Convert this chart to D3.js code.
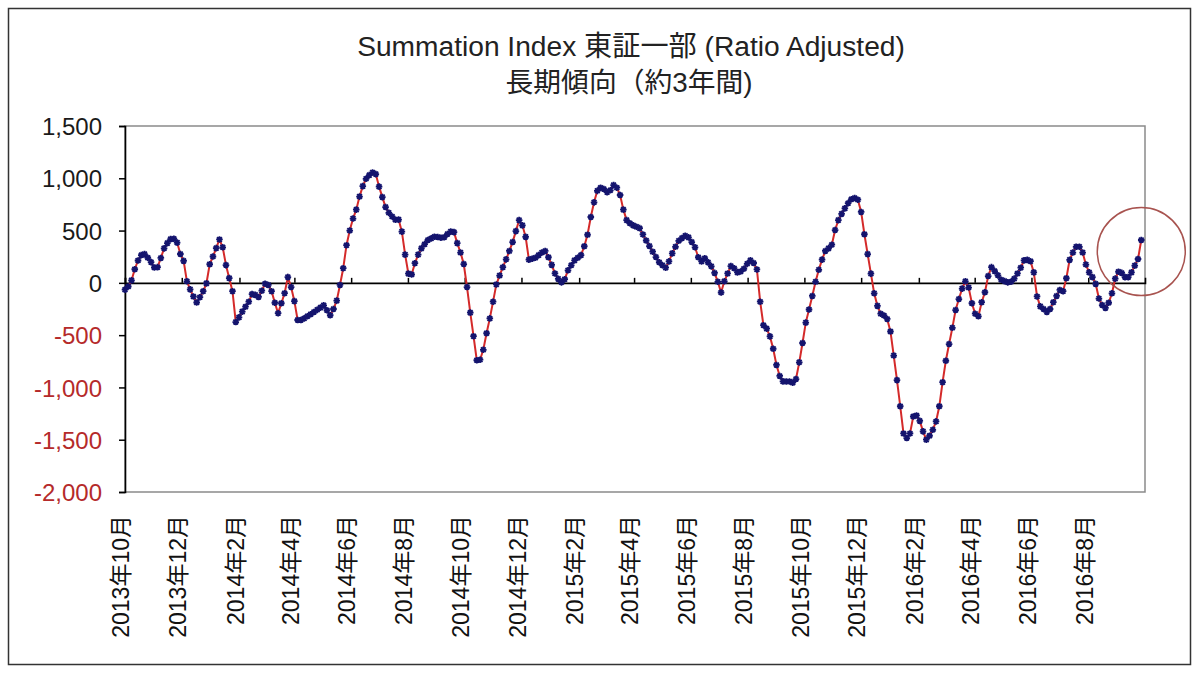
<!DOCTYPE html>
<html><head><meta charset="utf-8">
<script src="https://cdn.jsdelivr.net/npm/d3@7"></script>
<style>
body{margin:0;background:#fff;}
text{font-family:"Liberation Sans","Noto Sans CJK JP",Arial,sans-serif;}
</style>
</head><body>
<svg id="chart" width="1200" height="677"></svg>
<script>
// ---- data ----
const titleLine1 = "Summation Index 東証一部 (Ratio Adjusted)";
const titleLine2 = "長期傾向（約3年間)";
const seriesStart = "2013-10-01";   // first observation
const seriesStepHours = 84;         // two readings per week (every 3.5 days)
const values = [
  -65, -35, 24, 130, 214, 265, 275, 240, 198, 147,
  150, 238, 330, 380, 418, 422, 385, 276, 210, 15,
  -62, -130, -188, -137, -80, -5, 178, 252, 332, 415,
  340, 170, 45, -80, -375, -330, -275, -228, -180, -108,
  -115, -135, -75, -8, -20, -80, -190, -290, -195, -99,
  55, -40, -175, -355, -355, -340, -320, -300, -278, -258,
  -237, -215, -262, -310, -250, -170, -20, 140, 360, 500,
  615, 700, 825, 925, 995, 1030, 1055, 1040, 920, 820,
  725, 670, 635, 604, 605, 490, 270, 88, 80, 188,
  270, 330, 370, 410, 425, 441, 438, 431, 436, 467,
  490, 485, 380, 290, 180, -40, -285, -510, -740, -735,
  -640, -482, -340, -180, -15, 70, 150, 225, 305, 390,
  495, 600, 550, 440, 222, 230, 240, 265, 290, 305,
  245, 172, 90, 38, 5, 35, 120, 168, 215, 240,
  265, 350, 460, 630, 770, 880, 910, 898, 867, 885,
  935, 910, 840, 700, 600, 570, 550, 536, 523, 463,
  405, 352, 298, 247, 197, 168, 145, 205, 282, 345,
  402, 428, 450, 435, 390, 340, 245, 205, 236, 196,
  158, 95, 10, -92, 15, 90, 160, 140, 100, 108,
  135, 182, 215, 190, 128, -180, -405, -438, -512, -630,
  -785, -890, -942, -944, -944, -955, -920, -760, -575, -380,
  -255, -125, 10, 125, 222, 305, 330, 365, 505, 600,
  660, 712, 762, 800, 812, 795, 678, 465, 275, 88,
  -100, -220, -295, -312, -345, -465, -695, -930, -1180, -1440,
  -1484, -1440, -1278, -1268, -1320, -1420, -1500, -1462, -1405, -1325,
  -1180, -950, -745, -585, -430, -260, -155, -55, 15, -45,
  -195, -295, -320, -185, -90, 65, 150, 112, 72, 30,
  17, 5, 10, 40, 90, 145, 215, 220, 207, 100,
  -130, -225, -250, -278, -250, -185, -125, -68, -80, 44,
  220, 290, 345, 345, 290, 175, 100, 55, -10, -150,
  -212, -240, -190, -100, 40, 106, 95, 55, 55, 100,
  165, 228, 410
];
const yTickValues = [-2000, -1500, -1000, -500, 0, 500, 1000, 1500];
const xTickLabels = [
  "2013年10月","2013年12月","2014年2月","2014年4月","2014年6月","2014年8月",
  "2014年10月","2014年12月","2015年2月","2015年4月","2015年6月","2015年8月",
  "2015年10月","2015年12月","2016年2月","2016年4月","2016年6月","2016年8月"
];
const xDomainLabels = ["2013年10月", "2016年10月"];
const highlightValue = 300;   // centre of the red circle near the latest reading

// ---- layout ----
const svg = d3.select("#chart");
const plot = {left: 125, right: 1145, top: 126, bottom: 492};
const parseLabel = d3.timeParse("%Y年%m月");
const start = d3.timeParse("%Y-%m-%d")(seriesStart);
const data = values.map((v, i) => ({date: d3.timeHour.offset(start, i * seriesStepHours), value: v}));

const x = d3.scaleTime().domain(xDomainLabels.map(parseLabel)).range([plot.left, plot.right]);
const y = d3.scaleLinear().domain([-2000, 1500]).range([plot.bottom, plot.top]);

// outer frame
svg.append("rect").attr("x", 8.5).attr("y", 8.5).attr("width", 1182).attr("height", 656)
  .attr("fill", "#fff").attr("stroke", "#333").attr("stroke-width", 1.5);

// titles (fit to measured widths)
function fitText(sel, target) {
  const w = sel.node().getComputedTextLength();
  const fs = parseFloat(sel.attr("font-size"));
  sel.attr("font-size", fs * target / w);
}
const t1 = svg.append("text").attr("x", 631).attr("y", 56).attr("text-anchor", "middle")
  .attr("font-size", 26).attr("fill", "#222").text(titleLine1);
fitText(t1, 548);
const t2 = svg.append("text").attr("x", 629).attr("y", 92).attr("text-anchor", "middle")
  .attr("font-size", 26).attr("fill", "#222").text(titleLine2);
fitText(t2, 247);

// plot area border
svg.append("rect").attr("x", plot.left).attr("y", plot.top)
  .attr("width", plot.right - plot.left).attr("height", plot.bottom - plot.top)
  .attr("fill", "none").attr("stroke", "#8a8a8a").attr("stroke-width", 1.5);

// y axis
const fmt = d3.format(",");
const yAxis = d3.axisLeft(y).tickValues(yTickValues).tickSize(6).tickPadding(0)
  .tickFormat(d => fmt(d).replace("\u2212", "-"));
const gy = svg.append("g").attr("transform", `translate(${plot.left},0)`).call(yAxis);
gy.select(".domain").attr("stroke", "#000").attr("stroke-width", 1.6);
gy.selectAll(".tick line").attr("stroke", "#000").attr("stroke-width", 1.5);
gy.selectAll(".tick text").attr("font-size", 24).attr("font-family", null)
  .attr("x", -23).attr("dy", "0.36em")
  .attr("fill", d => d < 0 ? "#b52a2a" : "#1a1a1a");

// zero line with upward tick marks
const xTickDates = xTickLabels.map(parseLabel);
const xAxis = d3.axisTop(x).tickValues(xTickDates).tickSize(5).tickFormat("");
const gx = svg.append("g").attr("transform", `translate(0,${y(0)})`).call(xAxis);
gx.select(".domain").attr("stroke", "#000").attr("stroke-width", 1.6);
gx.selectAll(".tick line").attr("stroke", "#000").attr("stroke-width", 1.5);

// x labels (rotated)
svg.append("g").selectAll("text").data(xTickDates).join("text")
  .attr("transform", (d) => `translate(${x(d) - 4},515) rotate(-90)`)
  .attr("text-anchor", "end").attr("dy", "0.36em")
  .attr("font-size", 23).attr("fill", "#111")
  .text((d, i) => xTickLabels[i]);

// series line
const line = d3.line().x(d => x(d.date)).y(d => y(d.value));
svg.append("path").datum(data).attr("d", line)
  .attr("fill", "none").attr("stroke", "#d42a2a").attr("stroke-width", 2);

// markers (asterisk-like)
const mk = "M-3.3,0H3.3M0,-3.3V3.3M-2.4,-2.4L2.4,2.4M-2.4,2.4L2.4,-2.4";
svg.append("g").selectAll("path").data(data).join("path")
  .attr("transform", d => `translate(${x(d.date)},${y(d.value)})`)
  .attr("d", mk).attr("fill", "none").attr("stroke", "#14146e").attr("stroke-width", 1.8);

// highlight circle near the latest value
const last = data[data.length - 1];
svg.append("circle").attr("cx", x(last.date)).attr("cy", y(highlightValue)).attr("r", 44)
  .attr("fill", "none").attr("stroke", "#a8534f").attr("stroke-width", 1.5);
</script>
</body></html>
